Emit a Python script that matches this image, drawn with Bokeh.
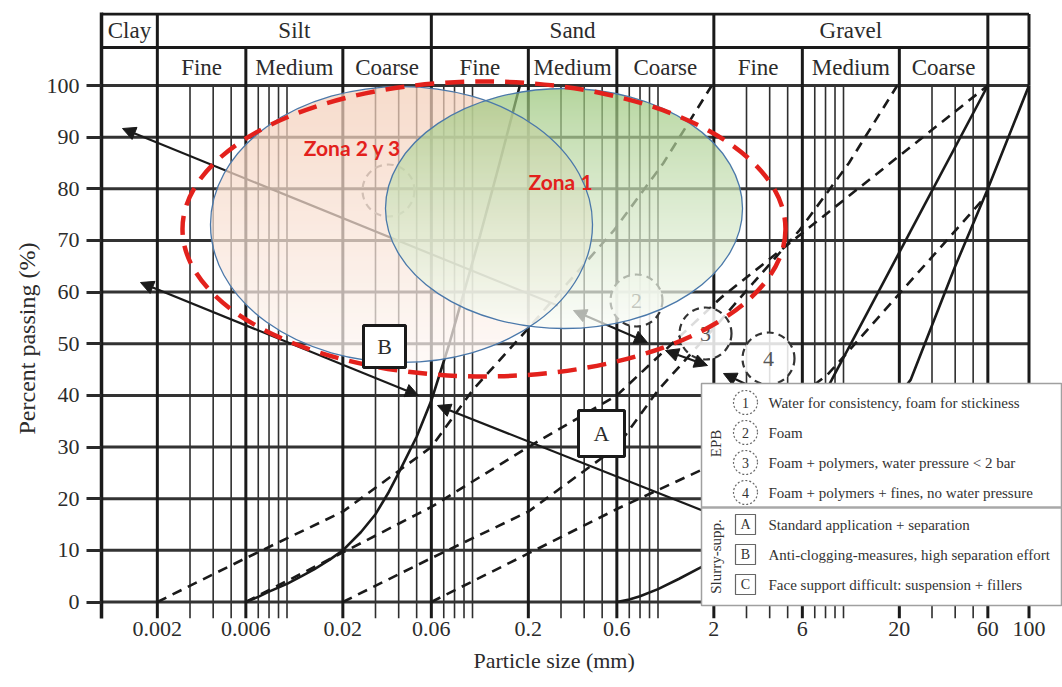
import numpy as np
from bokeh.plotting import figure
from bokeh.models import Range1d, FixedTicker, CustomJSTickFormatter, Arrow, NormalHead, Title
from bokeh.embed import file_html
from bokeh.resources import INLINE
from bokeh.core.properties import value

# ---------------- data ----------------
percent_ticks = [0, 10, 20, 30, 40, 50, 60, 70, 80, 90, 100]
size_ticks = [0.002, 0.006, 0.02, 0.06, 0.2, 0.6, 2, 6, 20, 60, 100]
main_classes = ["Clay", "Silt", "Sand", "Gravel", ""]
main_bounds = [0.001, 0.002, 0.06, 2, 60, 100]
sub_classes = ["", "Fine", "Medium", "Coarse", "Fine", "Medium", "Coarse", "Fine", "Medium", "Coarse", ""]
sub_bounds = [0.001, 0.002, 0.006, 0.02, 0.06, 0.2, 0.6, 2, 6, 20, 60, 100]

# solid grading curves (size mm, percent passing)
s1_size = [0.006, 0.007, 0.008, 0.01, 0.012, 0.014, 0.017, 0.02, 0.025, 0.03, 0.035, 0.04, 0.05,
           0.06, 0.075, 0.09, 0.11, 0.14, 0.18]
s1_pct = [0, 1.0, 2.0, 3.5, 5.0, 6.3, 8.2, 10, 13.5, 17, 21, 25, 32, 39, 50, 60, 71, 85, 100]
s2_size = [0.6, 0.7, 0.8, 1, 1.3, 1.7, 2.5, 4, 7, 12, 18, 23, 40, 60, 100]
s2_pct = [0, 0.5, 1.1, 2.5, 4.5, 6.7, 10, 15, 22, 31, 38, 43, 65, 80, 100]
s3_size = [2, 60]
s3_pct = [0, 100]
# dashed grading curves
dA_size = [0.002, 0.006, 0.02, 0.06, 0.1, 0.2, 0.33, 0.58, 1.07, 1.95]
dA_pct = [0, 8.5, 17.5, 30, 41, 53, 62, 72, 85, 100]
dB_size = [0.02, 0.06, 0.2, 0.6, 1.0, 2.0, 3.3, 5.8, 10.7, 19.5]
dB_pct = [0, 8.5, 17.5, 30, 41, 53, 62, 72, 85, 100]
dC_size = [0.06, 0.2, 0.6, 1.7, 8.2, 60]
dC_pct = [0, 9.4, 18, 25.5, 44, 79]
dD_size = [0.006, 0.02, 0.06, 0.2, 0.6, 2.2, 60]
dD_pct = [0, 9.6, 18.4, 30, 40, 59, 100]

epb_items = ["Water for consistency, foam for stickiness", "Foam",
             "Foam + polymers, water pressure < 2 bar", "Foam + polymers + fines, no water pressure"]
slurry_items = ["Standard application + separation", "Anti-clogging-measures, high separation effort",
                "Face support difficult: suspension + fillers"]

# ---------------- layout (pixels) ----------------
W, H = 1062, 687
LEFT, TOP, BOT = 101, 12, 618
PXDEC = 185.5
Y0PX, PXPCT = 601.5, 5.165
X0 = 0.001
x_end = X0 * 10 ** ((W - LEFT) / PXDEC)
y_start = -(BOT - Y0PX) / PXPCT
y_end = (Y0PX - TOP) / PXPCT


def X(px):
    return 10 ** (np.log10(X0) + (px - LEFT) / PXDEC)


def Y(py):
    return (Y0PX - py) / PXPCT


SERIF = value("Liberation Serif")
INK = "#1a1a1a"
TXT = "#2b2b2b"

p = figure(width=W, height=H, x_axis_type="log",
           x_range=Range1d(X0, x_end), y_range=Range1d(y_start, y_end),
           output_backend="svg", toolbar_location=None,
           min_border_left=LEFT, min_border_right=0, min_border_top=TOP,
           min_border_bottom=H - BOT)
p.outline_line_color = None
p.grid.visible = False
p.background_fill_color = "white"

# axes
yax = p.yaxis[0]
yax.ticker = FixedTicker(ticks=percent_ticks)
yax.major_tick_out = 15
yax.major_tick_in = 0
yax.minor_tick_out = 0
yax.major_tick_line_width = 3
yax.major_tick_line_color = "#2a2a2a"
yax.axis_line_width = 3.5
yax.axis_line_color = INK
yax.major_label_text_font = "Liberation Serif"
yax.major_label_text_font_size = "22px"
yax.major_label_text_color = TXT
yax.major_label_standoff = 7

xax = p.xaxis[0]
xax.ticker = FixedTicker(ticks=size_ticks)
xax.formatter = CustomJSTickFormatter(code="return tick.toString();")
xax.major_tick_out = 0
xax.major_tick_in = 0
xax.minor_tick_out = 0
xax.axis_line_color = None
xax.major_label_text_font = "Liberation Serif"
xax.major_label_text_font_size = "22px"
xax.major_label_text_color = TXT
xax.major_label_standoff = 3

p.add_layout(Title(text="Particle size (mm)", align="left", offset=372, standoff=14,
                   text_font="Liberation Serif", text_font_style="normal", text_font_size="22px",
                   text_color=TXT), "below")
p.add_layout(Title(text="Percent passing (%)", align="left", offset=184, standoff=8,
                   text_font="Liberation Serif", text_font_style="normal", text_font_size="24px",
                   text_color=TXT), "left")

# ---------------- grid ----------------
majors = sub_bounds[1:]
minors = []
for e in range(-3, 2):
    for k in range(1, 10):
        v = k * 10.0 ** e
        if 0.002 < v < 60 and not any(abs(v - m) / m < 1e-6 for m in majors):
            minors.append(v)
p.segment(x0=minors, x1=minors, y0=[y_start] * len(minors), y1=[100] * len(minors),
          line_color="#2e2e2e", line_width=1.6)
p.segment(x0=[X0] * len(percent_ticks), x1=[100] * len(percent_ticks),
          y0=percent_ticks, y1=percent_ticks, line_color="#333333", line_width=3)
p.segment(x0=majors, x1=majors, y0=[y_start] * len(majors), y1=[100] * len(majors),
          line_color=INK, line_width=3)

# header table
row_div = Y(47)
top_line = Y(13.5)
p.segment(x0=[X0, X0], x1=[100, 100], y0=[row_div, top_line], y1=[row_div, top_line],
          line_color=INK, line_width=3)
p.segment(x0=sub_bounds[1:], x1=sub_bounds[1:], y0=[100] * (len(sub_bounds) - 1),
          y1=[row_div] * (len(sub_bounds) - 1), line_color=INK, line_width=3)
p.segment(x0=main_bounds[1:], x1=main_bounds[1:], y0=[row_div] * (len(main_bounds) - 1),
          y1=[top_line] * (len(main_bounds) - 1), line_color=INK, line_width=3)
mx = [np.sqrt(a * b) for a, b in zip(main_bounds[:-1], main_bounds[1:])]
p.text(x=mx, y=[Y(29.5)] * len(mx), text=main_classes, text_font=SERIF, text_font_size="23px",
       text_align="center", text_baseline="middle", text_color=TXT)
sx = [np.sqrt(a * b) for a, b in zip(sub_bounds[:-1], sub_bounds[1:])]
p.text(x=sx, y=[Y(67)] * len(sx), text=sub_classes, text_font=SERIF, text_font_size="23px",
       text_align="center", text_baseline="middle", text_color=TXT)

# ---------------- curves ----------------
for xs, ys in [(s1_size, s1_pct), (s2_size, s2_pct), (s3_size, s3_pct)]:
    p.line(xs, ys, line_color=INK, line_width=2.6)
for xs, ys in [(dA_size, dA_pct), (dB_size, dB_pct), (dC_size, dC_pct), (dD_size, dD_pct)]:
    p.line(xs, ys, line_color=INK, line_width=2.6, line_dash="10 7")

# dashed zone circles
circ_px = [(636, 300, "2"), (705, 333, "3"), (768, 358, "4")]
p.scatter(x=[X(c[0]) for c in circ_px], y=[Y(c[1]) for c in circ_px], size=52, marker="circle",
          fill_color="white", fill_alpha=0.85, line_color="#333333", line_width=2.2, line_dash="7 5")
p.text(x=[X(c[0]) for c in circ_px], y=[Y(c[1]) for c in circ_px], text=[c[2] for c in circ_px],
       text_font=SERIF, text_font_size="22px", text_align="center", text_baseline="middle",
       text_color="#555555")
p.scatter(x=[X(388)], y=[Y(190)], size=52, marker="circle", fill_color=None,
          line_color="#777777", line_width=2.2, line_dash="7 5")

# ---------------- arrows ----------------
def arrow(px0, py0, px1, py1, start=False, end=True):
    head = lambda: NormalHead(size=13, fill_color=INK, line_color=INK, line_width=1)
    p.add_layout(Arrow(x_start=X(px0), y_start=Y(py0), x_end=X(px1), y_end=Y(py1),
                       line_color=INK, line_width=2.2,
                       start=head() if start else None, end=head() if end else None))

arrow(557, 305, 122, 128)
arrow(573, 310, 647, 342, start=True)
arrow(665, 350, 707, 365, start=True)
arrow(780, 400, 723, 373)
arrow(140, 282, 418, 395, start=True)
arrow(760, 533, 437, 405)

# ---------------- gradient ellipses ----------------
def ellipse_image(cx, cy, rx, ry, c_top, c_bot, alpha, gamma=1.0):
    w, h = int(2 * rx) + 2, int(2 * ry) + 2
    jj, ii = np.meshgrid(np.arange(w) + 0.5, np.arange(h) + 0.5)
    dx = (jj - w / 2) / rx
    dy = (ii - h / 2) / ry  # ii=0 is bottom row
    r = np.sqrt(dx ** 2 + dy ** 2)
    edge = np.clip((1 - r) * min(rx, ry) + 0.5, 0, 1)
    t = np.clip(1 - ii / h, 0, 1) ** gamma  # 0 at top, 1 at bottom
    ct, cb = np.array(c_top, float), np.array(c_bot, float)
    img = np.zeros((h, w), dtype=np.uint32)
    view = img.view(dtype=np.uint8).reshape((h, w, 4))
    for k in range(3):
        view[:, :, k] = (ct[k] + (cb[k] - ct[k]) * t).astype(np.uint8)
    view[:, :, 3] = (255 * alpha * edge).astype(np.uint8)
    x_left = X(cx - w / 2)
    x_right = X(cx + w / 2)
    r_ = p.image_rgba(image=[img], x=x_left, y=Y(cy + h / 2), dw=x_right - x_left, dh=h / PXPCT)
    r_.level = "overlay"

ellipse_image(401, 224, 191, 138, (244, 207, 185), (254, 248, 245), 0.72, 1.1)
ellipse_image(563.5, 208, 178.5, 120, (145, 193, 110), (250, 252, 247), 0.70, 0.75)

for cx, cy, rx, ry in [(401, 224, 191, 138), (563.5, 208, 178.5, 120)]:
    r_ = p.ellipse(x=[X(cx)], y=[Y(cy)], width=2 * rx, height=2 * ry, width_units="screen",
                   height_units="screen", fill_color=None, line_color="#4a78aa", line_width=1.3)
    r_.level = "overlay"
r_ = p.ellipse(x=[X(483.5)], y=[Y(228.5)], width=603, height=295, width_units="screen",
               height_units="screen", fill_color=None, line_color="#e3211c", line_width=4.5,
               line_dash="19 11")
r_.level = "overlay"

r_ = p.text(x=[X(352), X(560)], y=[Y(147), Y(181)], text=["Zona 2 y 3", "Zona 1"],
            text_font=value("Lato"), text_font_style="bold", text_font_size="21px",
            text_color="#e3211c", text_align="center", text_baseline="middle")
r_.level = "overlay"

# label boxes A and B
for cx, cy, s, lab in [(384, 346, 42, "B"), (601, 433, 46, "A")]:
    r_ = p.scatter(x=[X(cx)], y=[Y(cy)], size=s, marker="square", fill_color="white",
                   line_color=INK, line_width=3)
    r_.level = "overlay"
    r_ = p.text(x=[X(cx)], y=[Y(cy)], text=[lab], text_font=SERIF, text_font_size="22px",
                text_align="center", text_baseline="middle", text_color=TXT)
    r_.level = "overlay"

# ---------------- legend box ----------------
r_ = p.quad(left=[X(701)], right=[X(1061)], top=[Y(383)], bottom=[Y(605)], fill_color="white",
            line_color="#a0a0a0", line_width=1.5)
r_.level = "overlay"
r_ = p.segment(x0=[X(701)], x1=[X(1061)], y0=[Y(507)], y1=[Y(507)], line_color="#a8a8a8",
               line_width=2.5)
r_.level = "overlay"
epb_y = [402, 432, 462, 492]
sl_y = [524, 554, 584]
r_ = p.scatter(x=[X(745)] * 4, y=[Y(v) for v in epb_y], size=24, marker="circle", fill_color="white",
               line_color="#666666", line_width=1.2, line_dash="2 2")
r_.level = "overlay"
r_ = p.text(x=[X(745)] * 4, y=[Y(v) for v in epb_y], text=["1", "2", "3", "4"], text_font=SERIF,
            text_font_size="14px", text_align="center", text_baseline="middle", text_color="#333333")
r_.level = "overlay"
r_ = p.scatter(x=[X(745)] * 3, y=[Y(v) for v in sl_y], size=20, marker="square", fill_color="white",
               line_color="#666666", line_width=1.2)
r_.level = "overlay"
r_ = p.text(x=[X(745)] * 3, y=[Y(v) for v in sl_y], text=["A", "B", "C"], text_font=SERIF,
            text_font_size="14px", text_align="center", text_baseline="middle", text_color="#333333")
r_.level = "overlay"
r_ = p.text(x=[X(768)] * 4, y=[Y(v) for v in epb_y], text=epb_items, text_font=SERIF,
            text_font_size="15px", text_align="left", text_baseline="middle", text_color="#333333")
r_.level = "overlay"
r_ = p.text(x=[X(768)] * 3, y=[Y(v) for v in sl_y], text=slurry_items, text_font=SERIF,
            text_font_size="15px", text_align="left", text_baseline="middle", text_color="#333333")
r_.level = "overlay"
r_ = p.text(x=[X(715), X(715)], y=[Y(443), Y(556)], text=["EPB", "Slurry-supp."], angle=np.pi / 2,
            text_font=SERIF, text_font_size="15px", text_align="center", text_baseline="middle",
            text_color="#333333")
r_.level = "overlay"

open("out.html", "w").write(file_html(p, INLINE))
